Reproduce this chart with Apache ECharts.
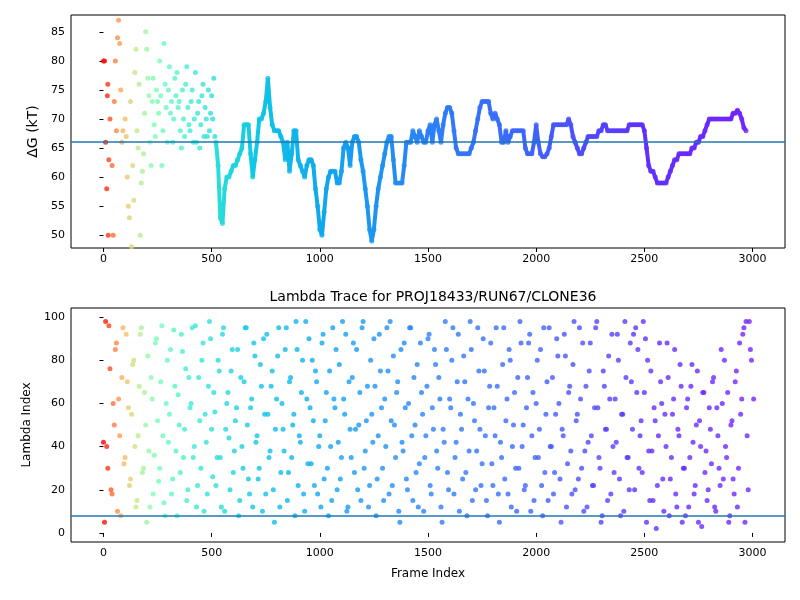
<!DOCTYPE html>
<html><head><meta charset="utf-8">
<script src="https://cdn.jsdelivr.net/npm/echarts@6/dist/echarts.min.js"></script>
<style>html,body{margin:0;padding:0;background:#fff}#c{width:800px;height:600px}</style>
</head><body><div id="c"></div>
<script>
// Early scattered ΔG points [frame, value]
const dgEarly = [[0,80],[5,80],[10,66],[15,58],[18,74],[20,76],[22,50],[25,63],[30,70],[40,62],[45,50],[50,73],[55,80],[60,68],[65,84],[70,87],[75,83],[80,75],[85,66],[90,68],[100,70],[105,67],[110,60],[115,55],[120,53],[125,73],[130,48],[135,62],[140,56],[145,78],[150,82],[155,68],[160,65],[165,76],[170,50],[175,59],[180,61],[185,64],[190,71],[195,85],[200,82],[205,77],[210,74],[215,66],[220,62],[225,73],[230,77],[235,69],[240,67],[245,75],[250,73],[255,71],[260,80],[265,74],[270,62],[275,68],[280,83],[285,76],[290,72],[295,66],[300,75],[305,79],[310,71],[315,73],[320,66],[325,70],[330,77],[335,74],[340,78],[345,72],[350,73],[355,68],[360,65],[365,75],[370,70],[375,67],[380,76],[385,79],[390,72],[395,69],[400,68],[405,73],[410,75],[415,66],[420,70],[425,78],[430,66],[435,71],[440,73],[445,65],[450,69],[455,74],[460,76],[465,67],[470,72],[475,70],[480,67],[485,75],[490,68],[495,71],[500,74],[505,70],[510,77],[515,67]];
// ΔG trace frames 520..1890 step 10
const dgTraceA = [66,62,53,52,58,60,60,61,62,62,63,64,65,69,69,69,64,60,63,66,70,70,71,73,77,72,69,68,68,68,67,66,63,66,61,64,68,68,63,62,61,60,62,63,63,62,58,55,51,50,54,58,60,61,61,61,59,59,61,65,66,65,62,66,67,67,66,63,61,58,55,51,49,51,55,58,60,62,64,66,67,67,63,59,59,59,59,62,66,66,66,68,67,66,68,67,66,66,68,69,66,69,70,68,66,69,71,72,72,71,68,65,64,64,64,64,64,64,65,66,68,70,72,73,73,73,73,71,70,71,70,69,66,66,68,66,67,68];
// ΔG trace frames 1900..2990 step 10
const dgTraceB = [68,68,68,68,68,65,64,64,64,66,69,66,64,63.5,63.5,64,65,67,69,69,69,69,69,69,69,70,69,67,66,65,64,64,65,66,67,67,67,67,67,68,68,69,69,68,68,68,68,68,68,68,68,68,68,69,69,69,69,69,69,69,68,65,62,61,61,60,59,59,59,59,59,60,61,62,63,63,64,64,64,64,64,64,65,65,66,66,67,67,68,69,70,70,70,70,70,70,70,70,70,70,70,71,71,71.5,71,70,68.5,68];
// Lambda index, frames 0..2990 step 10
const lamA = [42,98,30,76,18,50,88,62,8,95,35,70,22,55,80,12,45,92,28,65,5,38,72,18,88,52,30,96,14,60,42,85,25,68,8,50,92,35,76,20,58,95,40,12,72,30,88,55,18,98,48,65,22,80,35,92,10,60,44,75,28,52,85,15,40,70,95,25,58,12,82,45,30,68,90,18,55,38,75,5,62,95,28,48,85,15,70,35,55,98,22,42,80,10,62,90,32,52,75,18,45,88,25,65,8,40,95,58,20,78,35,62,92,12,48,72,28,85,50,15,98,38,68,22,55,90,8,45,75,30,62,95,18,52,82,35,70,5,42,88,25,60,95,15,50,78,32,65,10,45,90,22,58,85,38,72,12,48,98,28,62,80,18,42,92,55,25,70,8,38,85,60,20,95,48,32,75,15,58,88,22,45,68,5,35,95,52,18,80,40,65,10,30,88,50,22,72,92,45,15,60,35,85,8,28,70,95,40,18,55,82,25,48,92,12,65,38,78,20,55,95,30,10,68,42,88,22,58,98,35,5,75,48,15,62,92,28,42,80,8,55,98,35,20,70,92,95,85,45,28,65,5,38,75,15,52,22,88,60,10,40,72,25,55,85,12,45,68,30,8,62,35,78,18,50,5,40,65,28,15,58,32,72,10,45,22,60,80,35,5,50,25,70,12,88,62,95,98,20,85];
// Lambda index, frames 5..2995 step 10
const lamB = [5,40,96,20,60,85,10,45,72,32,92,58,25,78,40,15,68,95,30,50,82,12,62,36,90,24,70,45,8,80,55,18,94,38,64,28,84,48,15,72,60,35,96,22,52,80,10,42,68,90,26,56,35,75,12,95,48,65,20,85,38,58,8,72,30,95,50,18,62,88,42,25,78,10,55,92,35,68,20,48,82,12,60,38,95,28,72,50,8,85,45,65,18,98,32,58,80,22,70,40,12,92,52,30,75,15,62,85,42,25,98,55,10,70,35,88,48,20,65,95,30,52,12,80,42,68,25,92,58,15,40,75,98,22,50,65,10,85,38,58,20,95,45,72,28,12,88,55,35,68,92,18,48,78,30,62,5,42,85,20,58,95,35,70,10,48,82,28,62,98,15,52,38,75,22,90,45,8,68,32,58,95,18,42,78,25,62,85,12,50,30,72,98,40,20,58,88,10,65,35,80,48,22,95,55,15,40,72,28,90,60,5,45,82,32,68,18,98,52,25,62,88,38,12,75,45,22,95,58,30,8,68,48,82,18,40,62,92,25,55,10,72,35,88,48,20,65,30,52,98,90,80,15,38,58,2,45,70,25,55,88,8,35,62,18,48,78,5,30,58,12,68,42,22,75,52,3,65,38,20,48,70,12,58,30,85,25,40,65,8,52,18,75,30,55,92,5,45,98,80,62];

// colour stops by frame (as seen in the reference)
const stopFrames = [0,40,90,150,230,400,700,1000,1500,2000,2500,3000];
const stopColors = ['#ff0000','#ff6a35','#ffb462','#c8e88a','#80ffb4','#40ecd4','#10c8e4','#10a8ee','#2c80f6','#4062fa','#6030fe','#7424ff'];
function hex(c){return [1,3,5].map(i=>parseInt(c.substr(i,2),16));}
function colorAt(f){
  let i=0; while(i<stopFrames.length-2 && f>stopFrames[i+1]) i++;
  const t=Math.max(0,Math.min(1,(f-stopFrames[i])/(stopFrames[i+1]-stopFrames[i])));
  const a=hex(stopColors[i]), b=hex(stopColors[i+1]);
  return 'rgb('+a.map((v,k)=>Math.round(v+(b[k]-v)*t)).join(',')+')';
}
const mk = p => ({value:p, itemStyle:{color:colorAt(p[0])}});

const tracePts = dgTraceA.map((v,i)=>[520+i*10,v]).concat(dgTraceB.map((v,i)=>[1900+i*10,v]));
const topData = dgEarly.concat(tracePts).map(mk);
const botData = lamA.map((v,i)=>[i*10,v]).concat(lamB.map((v,i)=>[5+i*10,v])).map(mk);
const vmColors = []; for(let f=0; f<=3000; f+=25) vmColors.push(colorAt(f));

const xTicks = [0,500,1000,1500,2000,2500,3000];
const topTicks = [50,55,60,65,70,75,80,85];
const botTicks = [0,20,40,60,80,100];

const ff = 'DejaVu Sans';
const lblStyle = {color:'#000', fontSize:11, fontFamily:ff};
function xAxis(gi, name){
  return {type:'value', gridIndex:gi, min:-150, max:3150, splitLine:{show:false},
    axisLine:{show:false}, axisTick:{show:true, customValues:xTicks, length:4, lineStyle:{color:'#000'}},
    axisLabel:Object.assign({customValues:xTicks, margin:6, formatter:v=>String(v)}, lblStyle),
    name:name||'', nameLocation:'middle', nameGap:26, nameTextStyle:{color:'#000', fontSize:12, fontFamily:ff}};
}
function yAxis(gi, min, max, ticks, name, nfs, gap){
  return {type:'value', gridIndex:gi, min:min, max:max, splitLine:{show:false},
    axisLine:{show:false}, axisTick:{show:true, customValues:ticks, length:4, lineStyle:{color:'#000'}},
    axisLabel:Object.assign({customValues:ticks, margin:6}, lblStyle),
    name:name, nameLocation:'middle', nameGap:gap, nameRotate:90, nameTextStyle:{color:'#000', fontSize:nfs, fontFamily:ff}};
}
const ml = (y)=>({silent:true, symbol:'none', label:{show:false}, lineStyle:{color:'#1f77b4', width:1.5, type:'solid'}, data:[{yAxis:y}]});

const chart = echarts.init(document.getElementById('c'));
chart.setOption({
  animation:false,
  title:{text:'Lambda Trace for PROJ18433/RUN67/CLONE36', left:428, top:285, textAlign:'center',
    textStyle:{fontSize:14, fontWeight:'normal', color:'#000', fontFamily:ff}},
  grid:[{left:71, top:15, width:714, height:233, show:true, borderColor:'#000', borderWidth:1},
        {left:71, top:308, width:714, height:234, show:true, borderColor:'#000', borderWidth:1}],
  xAxis:[xAxis(0), xAxis(1,'Frame Index')],
  yAxis:[yAxis(0,47.8,87.9,topTicks,'ΔG (kT)',14,30), yAxis(1,-4.2,104.2,botTicks,'Lambda Index',12,32)],
  visualMap:{show:false, type:'continuous', min:0, max:3000, dimension:0, seriesIndex:[2], inRange:{color:vmColors}},
  series:[
    {type:'scatter', xAxisIndex:0, yAxisIndex:0, data:topData, symbolSize:5, markLine:ml(66.1), z:3},
    {type:'scatter', xAxisIndex:1, yAxisIndex:1, data:botData, symbolSize:5, markLine:ml(7.9)},
    {type:'line', xAxisIndex:0, yAxisIndex:0, data:tracePts, showSymbol:false, symbol:'none', lineStyle:{width:4}, z:2}
  ]
});
</script></body></html>
